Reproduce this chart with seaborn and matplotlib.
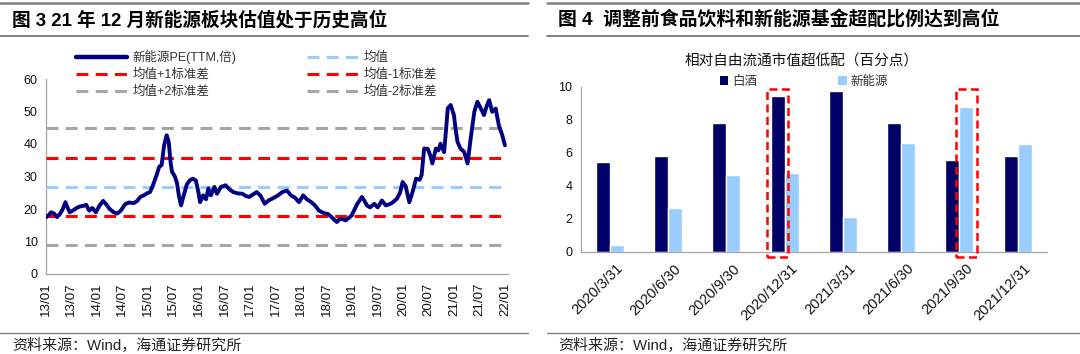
import matplotlib
matplotlib.use("Agg")
import matplotlib.pyplot as plt
import matplotlib.dates as mdates
import matplotlib.transforms as mtrans
from matplotlib.lines import Line2D
from matplotlib.patches import Rectangle, Patch
import seaborn as sns
import pandas as pd

# ---------------- data: left chart ----------------
pe_dates = [
    "2013-01-04", "2013-01-22", "2013-02-06", "2013-02-28", "2013-03-20", "2013-04-12", "2013-05-01",
    "2013-05-20", "2013-06-03", "2013-06-20", "2013-07-12", "2013-08-07", "2013-09-02", "2013-09-28",
    "2013-10-16", "2013-11-06", "2013-11-28", "2013-12-24",
    "2014-01-18", "2014-02-14", "2014-03-10", "2014-04-01", "2014-04-30", "2014-05-26", "2014-06-20",
    "2014-07-22", "2014-08-18", "2014-09-20", "2014-10-16", "2014-11-06", "2014-12-01", "2014-12-24",
    "2015-01-15", "2015-02-05", "2015-03-03", "2015-03-22", "2015-04-08", "2015-04-26", "2015-05-14",
    "2015-05-29", "2015-06-12", "2015-06-22", "2015-07-12", "2015-07-27", "2015-08-10", "2015-08-25",
    "2015-09-12", "2015-10-05", "2015-10-26", "2015-11-17", "2015-12-09", "2015-12-28",
    "2016-01-08", "2016-01-30", "2016-02-20", "2016-03-07", "2016-03-25", "2016-04-20", "2016-05-08",
    "2016-06-05", "2016-07-09", "2016-08-07", "2016-09-02", "2016-10-04", "2016-11-06", "2016-12-01",
    "2016-12-24",
    "2017-01-22", "2017-02-16", "2017-03-14", "2017-04-15", "2017-05-11", "2017-06-13", "2017-07-19",
    "2017-08-18", "2017-09-20", "2017-10-19", "2017-11-17", "2017-12-16",
    "2018-01-15", "2018-02-10", "2018-03-14", "2018-04-09", "2018-05-08", "2018-06-13", "2018-07-09",
    "2018-08-07", "2018-08-29", "2018-09-13", "2018-10-01", "2018-10-19", "2018-11-14", "2018-12-09",
    "2018-12-27",
    "2019-01-19", "2019-02-06", "2019-03-11", "2019-03-29", "2019-04-16", "2019-05-08", "2019-06-07",
    "2019-07-02", "2019-08-01", "2019-08-29", "2019-09-27", "2019-10-19", "2019-11-17", "2019-12-09",
    "2019-12-27",
    "2020-01-18", "2020-02-13", "2020-03-07", "2020-04-01", "2020-04-27", "2020-05-11", "2020-05-29",
    "2020-06-24", "2020-07-12", "2020-07-27", "2020-08-21", "2020-09-08", "2020-09-23", "2020-10-19",
    "2020-11-03", "2020-11-14", "2020-12-05", "2020-12-28",
    "2021-01-11", "2021-01-23", "2021-02-14", "2021-03-11", "2021-04-05", "2021-04-27", "2021-05-23",
    "2021-06-14", "2021-07-09", "2021-07-31", "2021-08-18", "2021-09-06", "2021-09-28", "2021-10-23",
    "2021-11-14", "2021-12-09", "2021-12-28",
]
pe_values = [
    17.5, 18.2, 19.0, 18.6, 17.5, 18.5, 20.0,
    22.1, 20.5, 19.0, 19.5, 20.3, 20.8, 21.0,
    21.3, 19.5, 20.3, 19.0,
    21.0, 22.5, 21.3, 20.0, 19.0, 18.6, 19.5,
    21.5, 22.0, 21.8, 22.5, 23.7, 24.2, 24.8,
    25.2, 27.3, 30.4, 33.0, 33.5, 39.6, 42.7,
    40.6, 34.0, 31.4, 30.0, 28.0, 24.0, 21.1,
    24.0, 27.5, 28.8, 29.3, 28.8, 25.0,
    22.1, 24.2, 23.0, 26.3, 24.2, 26.8, 24.7,
    26.8, 27.3, 26.0, 25.2, 24.8, 24.7, 24.0,
    23.7,
    24.5, 25.2, 24.2, 21.6, 22.6, 23.3, 24.2,
    25.2, 25.7, 24.2, 23.5, 22.1,
    24.2, 23.0, 22.1, 21.1, 19.5, 18.7, 18.5,
    17.5, 16.5, 16.0, 16.8, 17.0, 16.5, 17.3,
    18.0,
    20.0, 21.6, 23.7, 22.5, 21.1, 20.5, 21.6,
    20.5, 22.6, 21.1, 21.5, 22.1, 23.2, 25.0,
    28.3,
    27.0, 22.1, 25.2, 29.3, 29.0, 30.4, 38.6,
    38.5, 36.5, 34.0, 38.6, 38.0, 40.1, 37.5,
    45.0, 51.0, 52.0, 48.9,
    44.0, 40.6, 38.5, 37.6, 34.0, 41.7, 49.9,
    53.0, 50.9, 48.9, 51.5, 53.5, 49.9, 50.9,
    45.8, 42.7, 39.6,
]
pe_mean = 26.8
pe_std = 9.0
pe_label = "新能源PE(TTM,倍)"
band_labels = ["均值", "均值+1标准差", "均值-1标准差", "均值+2标准差", "均值-2标准差"]
band_k = [0, 1, -1, 2, -2]

# ---------------- data: right chart ----------------
quarters = ["2020/3/31", "2020/6/30", "2020/9/30", "2020/12/31",
            "2021/3/31", "2021/6/30", "2021/9/30", "2021/12/31"]
baijiu = [5.41, 5.80, 7.78, 9.45, 9.76, 7.82, 5.56, 5.80]
xinnengyuan = [0.40, 2.67, 4.65, 4.77, 2.12, 6.61, 8.79, 6.50]
series_names = ["白酒", "新能源"]
highlights = [(3, 0), (6, 1)]  # (quarter index, series index)

# ---------------- style ----------------
sns.set_theme(style="white")
plt.rcParams["font.family"] = ["Liberation Sans", "Noto Sans CJK SC", "DejaVu Sans"]
plt.rcParams["axes.unicode_minus"] = False

W, H = 1080, 354
fig = plt.figure(figsize=(W / 100, H / 100), dpi=100)
fig.patch.set_facecolor("white")


def fx(px):
    return px / W


def fy(py):
    return 1 - py / H


RULE = "#808080"
AXC = "#A6A6A6"

# header / footer rules and texts
for x0, x1 in [(0, 528), (547, 1080)]:
    fig.add_artist(Line2D([fx(x0), fx(x1)], [fy(3), fy(3)], color=RULE, lw=1.8))
    fig.add_artist(Line2D([fx(x0), fx(x1)], [fy(36), fy(36)], color=RULE, lw=1.4))
    fig.add_artist(Line2D([fx(x0), fx(x1)], [fy(333), fy(333)], color=RULE, lw=1.0))

fig.text(fx(12), fy(20), "图 3 21 年 12 月新能源板块估值处于历史高位",
         fontsize=13.4, fontweight="bold", va="center", ha="left", color="black")
fig.text(fx(558), fy(20), "图 4  调整前食品饮料和新能源基金超配比例达到高位",
         fontsize=13.6, fontweight="bold", va="center", ha="left", color="black")
fig.text(fx(12), fy(346), "资料来源：Wind，海通证券研究所", fontsize=10.8, va="center", ha="left", color="#222222")
fig.text(fx(558), fy(346), "资料来源：Wind，海通证券研究所", fontsize=10.8, va="center", ha="left", color="#222222")

# ---------------- left chart ----------------
ax1 = fig.add_axes([fx(46), fy(274), fx(508) - fx(46), fy(79) - fy(274)])
df_pe = pd.DataFrame({"date": pd.to_datetime(pe_dates), "pe": pe_values})
sns.lineplot(data=df_pe, x="date", y="pe", ax=ax1, color="#000080", lw=2.8, legend=False, zorder=5)

band_colors = {0: "#99CCFF", 1: "#FF0000", -1: "#FF0000", 2: "#A6A6A6", -2: "#A6A6A6"}
band_handles = {}
for k, lab in zip(band_k, band_labels):
    h = ax1.axhline(pe_mean + k * pe_std, color=band_colors[k], lw=2.2,
                    linestyle=(0, (3.9, 2.4)), zorder=3)
    band_handles[lab] = h

ax1.set_xlim(pd.Timestamp("2013-01-01"), pd.Timestamp("2022-01-19"))
ax1.set_ylim(0, 60)
ax1.set_yticks(range(0, 61, 10))
ax1.set_xticks(pd.date_range("2013-01-01", "2022-01-01", freq="6MS"))
ax1.xaxis.set_major_formatter(mdates.DateFormatter("%y/%m"))
ax1.set_xlabel("")
ax1.set_ylabel("")
for s in ["top", "right"]:
    ax1.spines[s].set_visible(False)
for s in ["left", "bottom"]:
    ax1.spines[s].set_color(AXC)
    ax1.spines[s].set_linewidth(0.9)
ax1.tick_params(axis="both", direction="out", length=4, width=0.8, color=AXC,
                labelsize=9, labelcolor="#111111", pad=2)
ax1.tick_params(axis="x", labelrotation=90, labelsize=9.6)

line_handle = Line2D([], [], color="#000080", lw=3.2)
handles = [line_handle, band_handles["均值+1标准差"], band_handles["均值+2标准差"],
           band_handles["均值"], band_handles["均值-1标准差"], band_handles["均值-2标准差"]]
labels = [pe_label, "均值+1标准差", "均值+2标准差", "均值", "均值-1标准差", "均值-2标准差"]
leg1 = ax1.legend(handles, labels, ncol=2, loc="upper left",
                  bbox_to_anchor=(fx(76), fy(50)), bbox_transform=fig.transFigure,
                  frameon=False, fontsize=9, handlelength=4.1, handletextpad=0.45,
                  columnspacing=5.6, labelspacing=0.4, borderaxespad=0, borderpad=0)
for t in leg1.get_texts():
    t.set_color("#333333")

# ---------------- right chart ----------------
ax2 = fig.add_axes([fx(580.7), fy(251.7), fx(1046.7) - fx(580.7), fy(86.7) - fy(251.7)])
df_bar = pd.DataFrame({
    "quarter": quarters * 2,
    "value": baijiu + xinnengyuan,
    "series": [series_names[0]] * len(quarters) + [series_names[1]] * len(quarters),
})
bar_colors = ["#000066", "#99CCFF"]
sns.barplot(data=df_bar, x="quarter", y="value", hue="series", order=quarters,
            hue_order=series_names, palette=bar_colors, saturation=1, width=0.48,
            gap=0, ax=ax2, legend=False, errorbar=None)

ax2.set_xlim(-0.5, len(quarters) - 0.5)
ax2.set_ylim(0, 10)
ax2.set_yticks(range(0, 11, 2))
ax2.set_xlabel("")
ax2.set_ylabel("")
for s in ["top", "right"]:
    ax2.spines[s].set_visible(False)
for s in ["left", "bottom"]:
    ax2.spines[s].set_color(AXC)
    ax2.spines[s].set_linewidth(0.9)
ax2.set_xticks([i - 0.5 for i in range(len(quarters) + 1)], minor=True)
ax2.tick_params(axis="x", which="major", length=0, pad=7)
ax2.tick_params(axis="x", which="minor", direction="out", length=4, width=0.8, color=AXC)
ax2.tick_params(axis="y", direction="out", length=4, width=0.8, color=AXC,
                labelsize=9, labelcolor="#111111", pad=2)
offset = mtrans.ScaledTranslation(6 / 100, 0, fig.dpi_scale_trans)
for lab in ax2.get_xticklabels():
    lab.set_rotation(45)
    lab.set_ha("right")
    lab.set_va("top")
    lab.set_rotation_mode("anchor")
    lab.set_fontsize(10.5)
    lab.set_color("#111111")
    lab.set_transform(lab.get_transform() + offset)

# red dashed highlight boxes around selected bars
for qi, si in highlights:
    bar = ax2.containers[si][qi]
    x0 = bar.get_x() - 0.065
    x1 = bar.get_x() + bar.get_width() + 0.06
    rect = Rectangle((x0, -0.32), x1 - x0, 10.2, fill=False, edgecolor="#FF0000",
                     lw=1.8, linestyle=(0, (3.2, 1.8)), clip_on=False, zorder=6)
    ax2.add_patch(rect)

ax2.text(0.475, fy(61), "相对自由流通市值超低配（百分点）", transform=mtrans.blended_transform_factory(
    ax2.transAxes, fig.transFigure), fontsize=10.5, fontweight="medium",
    ha="center", va="center", color="#111111")

leg_handles = [Patch(facecolor=c, edgecolor="none") for c in bar_colors]
leg2 = ax2.legend(leg_handles, series_names, ncol=2, loc="center",
                  bbox_to_anchor=(fx(804), fy(82)), bbox_transform=fig.transFigure,
                  frameon=False, fontsize=9, handlelength=0.7, handleheight=0.7,
                  handletextpad=0.3, columnspacing=6.5, borderaxespad=0, borderpad=0)
for t in leg2.get_texts():
    t.set_color("#333333")

fig.savefig("out.png", dpi=100, facecolor="white")
